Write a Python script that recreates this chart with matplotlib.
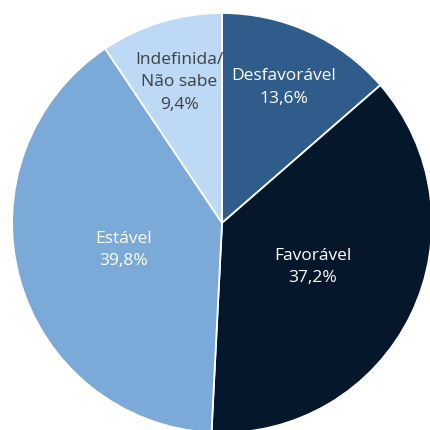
import numpy as np
import matplotlib.pyplot as plt

# Dados
categorias = ['Desfavorável', 'Favorável', 'Estável', 'Indefinida/\nNão sabe']
valores = [13.6, 37.2, 39.8, 9.4]
cores = ['#2F5C8A', '#04172B', '#7BAAD9', '#BDD9F5']
cores_texto = ['white', 'white', 'white', '#404040']
dist_rotulo = [0.71, 0.48, 0.485, 0.70]

fig = plt.figure(figsize=(4.3, 4.3), dpi=100)
ax = fig.add_axes([0, 0, 1, 1])

wedges, _ = ax.pie(valores, colors=cores, startangle=90, counterclock=False,
                   radius=1.0, wedgeprops=dict(edgecolor='white', linewidth=1.3))

# Rotulos no meio de cada fatia
for w, cat, v, c, d in zip(wedges, categorias, valores, cores_texto, dist_rotulo):
    ang = np.deg2rad((w.theta1 + w.theta2) / 2)
    txt = f'{cat}\n{v:.1f}%'.replace('.', ',')
    ax.text(d * np.cos(ang), d * np.sin(ang), txt, ha='center', va='center',
            color=c, fontsize=12.5, family='Open Sans', linespacing=1.55)

ax.set_xlim(-1.057, 0.99)
ax.set_ylim(-0.986, 1.062)
ax.set_aspect('equal')
ax.axis('off')

fig.savefig('out.png', dpi=100)
